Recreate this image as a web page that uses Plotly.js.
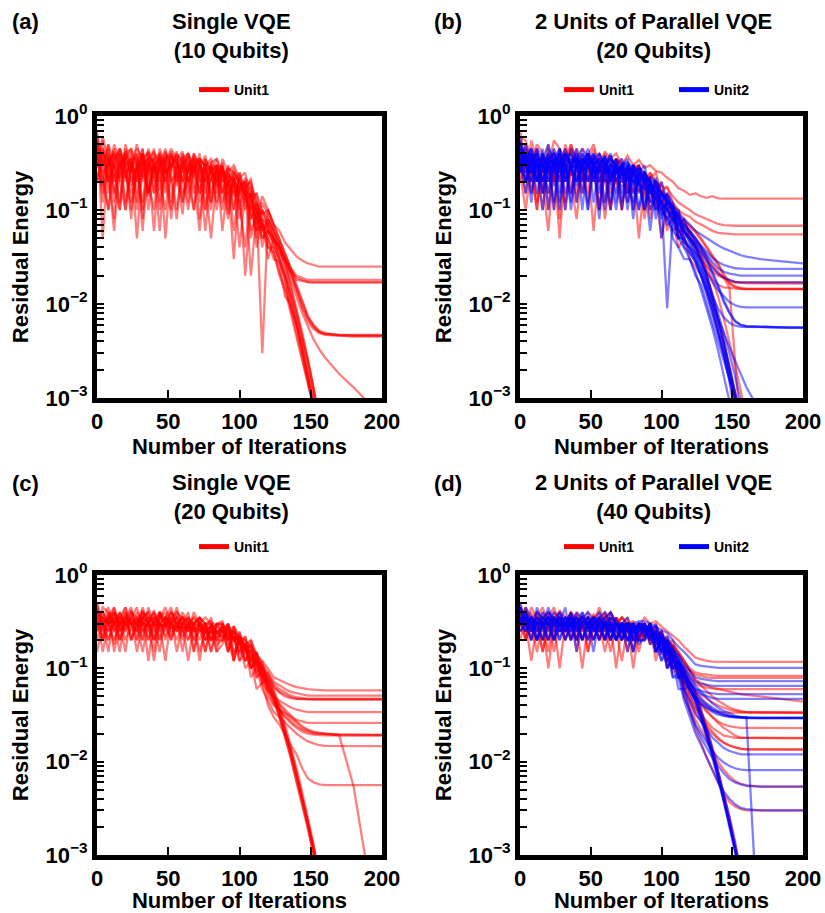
<!DOCTYPE html>
<html>
<head>
<meta charset="utf-8">
<script src="https://cdn.plot.ly/plotly-3.0.1.min.js"></script>
<style>html,body{margin:0;padding:0;background:#fff;}#chart{width:825px;height:913px;}</style>
</head>
<body>
<div id="chart"></div>
<script>
// ---------------- iteration grids ----------------
const headIters = [0,4,8,12,16,20,24,28,32,36,40,44,48,52,56,60,64,68,72,76,80,84,88,92,96,100,104,108,112,116,120];
const tailIters = [124,128,132,136,140,144,148,152,156,160,170,180,190,200];

// ---------------- tick labels ----------------
const xTickVals = [0,50,100,150,200];
const yDecades = [0.001,0.01,0.1,1];
const yDecadeLabels = ['10<sup>\u22123</sup>','10<sup>\u22122</sup>','10<sup>\u22121</sup>','10<sup>0</sup>'];

// ---------------- titles / legends ----------------
const panelLetters = ['(a)','(b)','(c)','(d)'];
const panelTitles = ['Single VQE<br>(10 Qubits)','2 Units of Parallel VQE<br>(20 Qubits)','Single VQE<br>(20 Qubits)','2 Units of Parallel VQE<br>(40 Qubits)'];
const unitNames = ['Unit1','Unit2'];

// ---------------- Panel (a): Single VQE, 10 qubits, Unit1 ----------------
const A_u1_head = [
[0.65,0.3,0.45,0.12,0.38,0.2,0.42,0.15,0.35,0.28,0.45,0.1,0.3,0.4,0.18,0.35,0.25,0.4,0.12,0.3,0.28,0.2,0.32,0.09,0.25,0.2,0.15,0.22,0.08,0.14,0.1],
[0.4,0.2,0.5,0.3,0.1,0.45,0.25,0.38,0.08,0.32,0.22,0.4,0.3,0.12,0.35,0.42,0.2,0.3,0.35,0.15,0.3,0.1,0.25,0.22,0.06,0.18,0.2,0.08,0.12,0.06,0.07],
[0.3,0.55,0.15,0.35,0.4,0.12,0.3,0.5,0.28,0.14,0.4,0.3,0.45,0.2,0.25,0.09,0.33,0.22,0.28,0.38,0.12,0.28,0.15,0.25,0.18,0.12,0.04,0.15,0.1,0.05,0.06],
[0.2,0.35,0.25,0.06,0.3,0.38,0.18,0.28,0.4,0.2,0.1,0.35,0.25,0.3,0.42,0.15,0.2,0.3,0.08,0.25,0.3,0.22,0.1,0.24,0.2,0.16,0.2,0.12,0.1,0.003,0.08],
[0.5,0.15,0.3,0.42,0.22,0.3,0.08,0.35,0.22,0.45,0.3,0.16,0.38,0.25,0.1,0.3,0.36,0.15,0.3,0.2,0.05,0.22,0.26,0.14,0.2,0.08,0.15,0.1,0.12,0.04,0.1],
[0.35,0.25,0.1,0.4,0.3,0.22,0.35,0.05,0.3,0.36,0.2,0.3,0.15,0.38,0.3,0.22,0.1,0.28,0.32,0.2,0.26,0.3,0.12,0.2,0.15,0.22,0.1,0.16,0.05,0.1,0.07],
[0.45,0.12,0.35,0.28,0.45,0.25,0.15,0.32,0.45,0.1,0.3,0.25,0.42,0.3,0.2,0.4,0.3,0.1,0.25,0.3,0.32,0.18,0.3,0.12,0.22,0.14,0.18,0.02,0.1,0.06,0.05],
[0.28,0.4,0.3,0.18,0.1,0.35,0.45,0.3,0.12,0.4,0.28,0.06,0.32,0.45,0.35,0.2,0.38,0.25,0.4,0.1,0.22,0.25,0.3,0.2,0.03,0.2,0.12,0.15,0.04,0.08,0.04],
[0.6,0.3,0.2,0.5,0.35,0.1,0.3,0.4,0.2,0.3,0.06,0.35,0.25,0.28,0.4,0.3,0.12,0.35,0.2,0.28,0.15,0.3,0.06,0.2,0.22,0.1,0.2,0.05,0.1,0.08,0.03],
[0.25,0.18,0.38,0.22,0.3,0.25,0.1,0.28,0.32,0.15,0.35,0.22,0.1,0.3,0.28,0.12,0.3,0.35,0.25,0.06,0.25,0.2,0.28,0.15,0.2,0.04,0.15,0.1,0.06,0.07,0.05],
[0.7,0.05,0.4,0.3,0.2,0.5,0.3,0.25,0.4,0.15,0.3,0.38,0.2,0.1,0.3,0.38,0.25,0.3,0.15,0.35,0.25,0.12,0.28,0.2,0.1,0.22,0.15,0.06,0.09,0.07,0.04],
[0.4,0.45,0.2,0.3,0.12,0.4,0.3,0.2,0.35,0.42,0.15,0.3,0.35,0.08,0.28,0.32,0.2,0.38,0.3,0.25,0.1,0.28,0.2,0.25,0.14,0.18,0.02,0.12,0.08,0.05,0.06],
[0.3,0.4,0.35,0.2,0.45,0.25,0.3,0.12,0.35,0.4,0.3,0.2,0.4,0.3,0.35,0.12,0.3,0.25,0.35,0.28,0.2,0.3,0.18,0.08,0.22,0.12,0.16,0.08,0.11,0.07,0.06],
[0.5,0.2,0.1,0.35,0.45,0.3,0.12,0.25,0.4,0.3,0.15,0.45,0.3,0.2,0.08,0.35,0.4,0.25,0.3,0.1,0.32,0.35,0.2,0.28,0.25,0.15,0.22,0.18,0.06,0.12,0.09],
[0.3,0.6,0.35,0.15,0.3,0.42,0.2,0.3,0.1,0.35,0.42,0.3,0.2,0.38,0.25,0.3,0.15,0.4,0.3,0.2,0.3,0.15,0.35,0.25,0.3,0.22,0.25,0.12,0.15,0.1,0.08],
[0.45,0.35,0.25,0.08,0.4,0.3,0.35,0.2,0.45,0.15,0.3,0.35,0.2,0.42,0.3,0.25,0.4,0.2,0.06,0.3,0.35,0.25,0.15,0.3,0.2,0.25,0.14,0.18,0.12,0.09,0.1],
[0.2,0.45,0.3,0.4,0.2,0.1,0.3,0.45,0.35,0.25,0.3,0.12,0.35,0.4,0.22,0.3,0.4,0.3,0.15,0.35,0.25,0.3,0.28,0.1,0.26,0.2,0.18,0.2,0.12,0.08,0.07],
[0.55,0.25,0.3,0.45,0.3,0.35,0.25,0.4,0.06,0.3,0.35,0.4,0.25,0.3,0.35,0.2,0.25,0.33,0.35,0.3,0.12,0.3,0.22,0.28,0.1,0.25,0.16,0.14,0.15,0.06,0.08],
[0.35,0.3,0.5,0.2,0.25,0.4,0.45,0.1,0.28,0.35,0.25,0.38,0.05,0.3,0.38,0.35,0.2,0.1,0.35,0.3,0.25,0.35,0.25,0.18,0.28,0.18,0.2,0.16,0.07,0.1,0.06]
];
const A_u1_tail = [
[0.07,0.06,0.045,0.038,0.032,0.029,0.027,0.026,0.025,0.025,0.025,0.025,0.025,0.025],
[0.05,0.04,0.03,0.024,0.02,0.019,0.018,0.018,0.018,0.018,0.018,0.018,0.018,0.018],
[0.045,0.035,0.028,0.022,0.019,0.018,0.017,0.017,0.017,0.017,0.017,0.017,0.017,0.017],
[0.06,0.045,0.032,0.022,0.015,0.01,0.0072,0.0058,0.0051,0.0048,0.0047,0.0047,0.0047,0.0047],
[0.07,0.05,0.034,0.024,0.016,0.011,0.0075,0.006,0.0052,0.0049,0.0047,0.0046,0.0046,0.0046],
[0.05,0.04,0.028,0.018,0.012,0.008,0.0058,0.0042,0.0033,0.0027,0.0018,0.0013,0.0009,0.0006],
[0.035,0.02,0.014,0.008,0.0045,0.0025,0.0014,0.0008,0.0003,null,null,null,null,null],
[0.04,0.025,0.012,0.01,0.006,0.003,0.0016,0.0009,0.0004,null,null,null,null,null],
[0.05,0.03,0.02,0.012,0.007,0.004,0.002,0.001,0.0005,null,null,null,null,null],
[0.03,0.028,0.018,0.009,0.006,0.0035,0.0018,0.0009,0.0004,null,null,null,null,null],
[0.035,0.022,0.015,0.009,0.005,0.0028,0.0015,0.0008,0.0003,null,null,null,null,null],
[0.04,0.03,0.02,0.013,0.008,0.0045,0.0024,0.0012,0.0005,null,null,null,null,null],
[0.05,0.04,0.03,0.021,0.014,0.0095,0.007,0.0057,0.005,0.0048,0.0046,0.0045,0.0045,0.0045],
[0.06,0.04,0.025,0.015,0.008,0.0045,0.0025,0.0013,0.0006,null,null,null,null,null],
[0.06,0.045,0.028,0.016,0.009,0.005,0.0026,0.0013,0.0006,null,null,null,null,null],
[0.07,0.05,0.035,0.024,0.018,0.0175,0.0172,0.017,0.017,0.017,0.017,0.017,0.017,0.017],
[0.05,0.035,0.022,0.012,0.0065,0.0035,0.0018,0.0009,0.0004,null,null,null,null,null],
[0.055,0.04,0.03,0.021,0.014,0.009,0.0065,0.0054,0.0049,0.0047,0.0046,0.0046,0.0046,0.0046],
[0.045,0.03,0.018,0.01,0.006,0.0032,0.0017,0.0009,0.0004,null,null,null,null,null]
];

// ---------------- Panel (b): 2 units parallel, 20 qubits ----------------
const B_u1_head = [
[0.6,0.55,0.35,0.5,0.4,0.3,0.55,0.45,0.35,0.5,0.3,0.45,0.38,0.5,0.3,0.42,0.35,0.4,0.3,0.38,0.3,0.34,0.28,0.3,0.26,0.25,0.22,0.2,0.17,0.16,0.145],
[0.3,0.15,0.35,0.25,0.1,0.3,0.2,0.35,0.28,0.15,0.32,0.25,0.4,0.2,0.3,0.12,0.3,0.35,0.2,0.28,0.22,0.3,0.15,0.25,0.2,0.18,0.17,0.14,0.12,0.11,0.1],
[0.25,0.1,0.3,0.4,0.2,0.06,0.3,0.25,0.45,0.3,0.15,0.35,0.28,0.3,0.1,0.32,0.25,0.3,0.35,0.15,0.28,0.2,0.25,0.08,0.2,0.15,0.13,0.11,0.1,0.09,0.085],
[0.3,0.25,0.27,0.22,0.26,0.24,0.25,0.23,0.25,0.24,0.24,0.22,0.23,0.21,0.22,0.2,0.21,0.19,0.2,0.18,0.17,0.16,0.15,0.14,0.13,0.125,0.115,0.1,0.088,0.078,0.068],
[0.25,0.3,0.24,0.26,0.22,0.25,0.23,0.26,0.22,0.24,0.23,0.24,0.21,0.22,0.2,0.21,0.19,0.2,0.18,0.19,0.16,0.17,0.14,0.15,0.12,0.12,0.11,0.095,0.085,0.075,0.066],
[0.45,0.2,0.3,0.1,0.38,0.3,0.2,0.4,0.12,0.3,0.35,0.2,0.3,0.06,0.28,0.3,0.2,0.33,0.1,0.3,0.2,0.25,0.1,0.2,0.14,0.1,0.12,0.08,0.06,0.07,0.05],
[0.35,0.45,0.15,0.3,0.25,0.5,0.1,0.3,0.35,0.2,0.08,0.3,0.25,0.38,0.2,0.3,0.15,0.28,0.25,0.12,0.25,0.05,0.2,0.22,0.1,0.15,0.06,0.1,0.09,0.05,0.06],
[0.2,0.3,0.4,0.12,0.3,0.2,0.32,0.05,0.3,0.45,0.25,0.3,0.12,0.3,0.35,0.2,0.1,0.3,0.22,0.26,0.1,0.22,0.2,0.12,0.15,0.1,0.08,0.1,0.06,0.045,0.04],
[0.7,0.3,0.2,0.35,0.15,0.3,0.4,0.25,0.1,0.3,0.28,0.35,0.2,0.25,0.3,0.08,0.25,0.2,0.3,0.22,0.15,0.25,0.18,0.1,0.15,0.05,0.1,0.08,0.04,0.05,0.03],
[0.4,0.2,0.55,0.3,0.35,0.1,0.45,0.3,0.2,0.5,0.35,0.15,0.4,0.3,0.35,0.25,0.1,0.35,0.3,0.2,0.3,0.28,0.08,0.22,0.25,0.15,0.18,0.12,0.1,0.06,0.05],
[0.3,0.5,0.25,0.1,0.4,0.3,0.35,0.2,0.5,0.3,0.12,0.35,0.3,0.45,0.25,0.3,0.38,0.2,0.1,0.3,0.25,0.3,0.2,0.15,0.2,0.16,0.14,0.1,0.08,0.07,0.06],
[0.55,0.35,0.3,0.45,0.2,0.38,0.3,0.08,0.35,0.4,0.3,0.2,0.35,0.3,0.1,0.4,0.3,0.25,0.3,0.15,0.3,0.2,0.25,0.2,0.12,0.2,0.1,0.12,0.05,0.08,0.05],
[0.45,0.25,0.35,0.4,0.3,0.15,0.3,0.4,0.3,0.25,0.45,0.3,0.15,0.3,0.4,0.3,0.2,0.35,0.3,0.15,0.28,0.3,0.2,0.25,0.18,0.12,0.15,0.1,0.07,0.06,0.05]
];
const B_u1_tail = [
[0.15,0.14,0.135,0.14,0.133,0.132,0.132,0.132,0.132,0.132,0.132,0.132,0.132,0.132],
[0.09,0.085,0.08,0.075,0.071,0.069,0.068,0.068,0.068,0.068,0.068,0.068,0.068,0.068],
[0.075,0.07,0.065,0.06,0.057,0.056,0.055,0.055,0.055,0.055,0.055,0.055,0.055,0.055],
[0.06,0.05,0.04,0.033,0.027,0.021,0.017,0.0155,0.0148,0.0145,0.0145,0.0145,0.0145,0.0145],
[0.058,0.048,0.039,0.032,0.026,0.02,0.0165,0.015,0.0145,0.0143,0.0143,0.0143,0.0143,0.0143],
[0.045,0.038,0.03,0.025,0.021,0.019,0.018,0.017,0.017,0.017,0.017,0.017,0.017,0.017],
[0.04,0.035,0.02,0.012,0.007,0.004,0.002,0.001,0.0004,null,null,null,null,null],
[0.035,0.03,0.025,0.022,0.02,0.019,0.015,0.002,0.0004,null,null,null,null,null],
[0.025,0.02,0.014,0.009,0.005,0.003,0.0017,0.0009,0.0004,null,null,null,null,null],
[0.04,0.03,0.02,0.012,0.007,0.004,0.0022,0.0012,0.0006,null,null,null,null,null],
[0.05,0.04,0.032,0.026,0.022,0.019,0.0175,0.017,0.0168,0.0166,0.0165,0.0165,0.0165,0.0165],
[0.04,0.03,0.022,0.018,0.016,0.015,0.0148,0.0146,0.0145,0.0145,0.0145,0.0145,0.0145,0.0145],
[0.04,0.032,0.025,0.018,0.012,0.007,0.004,0.0022,0.0012,0.0006,null,null,null,null]
];
const B_u2_head = [
[0.4,0.3,0.45,0.2,0.35,0.5,0.3,0.4,0.25,0.45,0.35,0.3,0.4,0.28,0.35,0.3,0.38,0.25,0.3,0.32,0.25,0.28,0.22,0.2,0.18,0.15,0.13,0.11,0.095,0.08,0.07],
[0.3,0.2,0.35,0.4,0.15,0.3,0.35,0.2,0.4,0.3,0.18,0.35,0.3,0.2,0.32,0.35,0.22,0.3,0.15,0.3,0.25,0.2,0.26,0.15,0.18,0.14,0.12,0.1,0.085,0.07,0.06],
[0.5,0.35,0.12,0.4,0.3,0.25,0.45,0.15,0.35,0.3,0.4,0.1,0.35,0.3,0.25,0.38,0.2,0.32,0.28,0.1,0.28,0.24,0.2,0.22,0.08,0.16,0.12,0.11,0.07,0.08,0.055],
[0.25,0.4,0.3,0.2,0.45,0.1,0.3,0.38,0.3,0.12,0.35,0.28,0.2,0.38,0.3,0.12,0.3,0.26,0.3,0.2,0.12,0.25,0.2,0.06,0.18,0.12,0.1,0.08,0.07,0.06,0.05],
[0.35,0.15,0.4,0.3,0.25,0.4,0.18,0.3,0.45,0.28,0.2,0.38,0.1,0.3,0.35,0.25,0.3,0.12,0.32,0.26,0.25,0.18,0.25,0.2,0.15,0.12,0.009,0.09,0.08,0.06,0.045],
[0.3,0.35,0.25,0.3,0.35,0.28,0.3,0.32,0.3,0.28,0.3,0.27,0.29,0.26,0.27,0.25,0.26,0.24,0.24,0.22,0.2,0.19,0.17,0.15,0.13,0.12,0.1,0.09,0.075,0.065,0.058],
[0.45,0.3,0.2,0.35,0.3,0.15,0.35,0.25,0.4,0.3,0.12,0.3,0.35,0.22,0.3,0.28,0.1,0.3,0.25,0.25,0.2,0.22,0.12,0.18,0.1,0.12,0.07,0.08,0.05,0.06,0.05],
[0.6,0.25,0.35,0.15,0.3,0.4,0.3,0.12,0.35,0.4,0.3,0.2,0.4,0.12,0.3,0.35,0.25,0.15,0.3,0.3,0.08,0.25,0.22,0.15,0.2,0.05,0.15,0.1,0.06,0.05,0.04],
[0.25,0.4,0.15,0.35,0.2,0.3,0.12,0.4,0.2,0.35,0.25,0.4,0.2,0.3,0.08,0.28,0.3,0.35,0.12,0.25,0.3,0.1,0.2,0.18,0.12,0.09,0.1,0.05,0.04,0.03,0.03],
[0.35,0.2,0.3,0.45,0.2,0.35,0.4,0.3,0.15,0.3,0.45,0.25,0.3,0.35,0.2,0.1,0.3,0.28,0.2,0.3,0.15,0.2,0.25,0.1,0.15,0.12,0.08,0.06,0.05,0.04,0.035],
[0.55,0.3,0.25,0.4,0.3,0.2,0.35,0.45,0.2,0.3,0.35,0.15,0.3,0.4,0.3,0.2,0.35,0.3,0.1,0.28,0.25,0.15,0.22,0.12,0.14,0.08,0.12,0.06,0.07,0.04,0.03],
[0.3,0.45,0.3,0.2,0.4,0.3,0.25,0.35,0.1,0.35,0.3,0.28,0.4,0.3,0.15,0.3,0.35,0.2,0.3,0.15,0.28,0.2,0.1,0.2,0.15,0.1,0.08,0.1,0.05,0.05,0.038],
[0.45,0.2,0.4,0.3,0.1,0.35,0.3,0.45,0.2,0.3,0.4,0.25,0.1,0.35,0.4,0.3,0.2,0.35,0.25,0.3,0.1,0.28,0.25,0.2,0.15,0.2,0.12,0.1,0.06,0.06,0.045],
[0.3,0.5,0.35,0.25,0.4,0.2,0.35,0.1,0.4,0.3,0.35,0.45,0.3,0.2,0.4,0.3,0.12,0.3,0.35,0.2,0.3,0.25,0.3,0.15,0.22,0.15,0.14,0.1,0.09,0.06,0.05],
[0.5,0.3,0.2,0.45,0.35,0.3,0.1,0.35,0.4,0.3,0.2,0.3,0.45,0.3,0.25,0.35,0.3,0.2,0.3,0.35,0.2,0.1,0.25,0.2,0.2,0.15,0.12,0.11,0.08,0.055,0.05],
[0.35,0.4,0.25,0.3,0.15,0.45,0.35,0.3,0.25,0.4,0.2,0.35,0.3,0.4,0.1,0.3,0.35,0.3,0.25,0.12,0.3,0.25,0.2,0.2,0.1,0.15,0.1,0.08,0.1,0.045,0.04],
[0.4,0.3,0.45,0.2,0.3,0.35,0.25,0.45,0.3,0.15,0.35,0.3,0.4,0.25,0.3,0.38,0.2,0.1,0.3,0.32,0.28,0.2,0.1,0.22,0.2,0.12,0.15,0.12,0.08,0.07,0.06],
[0.25,0.35,0.45,0.3,0.2,0.35,0.4,0.3,0.35,0.1,0.3,0.4,0.3,0.35,0.2,0.3,0.4,0.25,0.3,0.25,0.18,0.3,0.2,0.12,0.2,0.1,0.12,0.09,0.05,0.05,0.035]
];
const B_u2_tail = [
[0.06,0.055,0.05,0.046,0.042,0.039,0.037,0.035,0.033,0.032,0.03,0.029,0.028,0.027],
[0.05,0.042,0.036,0.031,0.028,0.026,0.025,0.024,0.0238,0.0236,0.0236,0.0236,0.0236,0.0236],
[0.048,0.04,0.033,0.028,0.024,0.022,0.021,0.0205,0.02,0.02,0.02,0.02,0.02,0.02],
[0.042,0.035,0.028,0.024,0.021,0.019,0.018,0.0172,0.0171,0.017,0.017,0.017,0.017,0.017],
[0.035,0.028,0.022,0.017,0.014,0.012,0.0105,0.0097,0.0093,0.0092,0.0092,0.0092,0.0092,0.0092],
[0.05,0.04,0.031,0.022,0.016,0.011,0.0082,0.0066,0.006,0.0058,0.0057,0.0057,0.0056,0.0056],
[0.045,0.037,0.029,0.021,0.015,0.0105,0.008,0.0065,0.006,0.0058,0.0057,0.0056,0.0056,0.0056],
[0.03,0.022,0.015,0.009,0.005,0.003,0.0015,0.0007,0.0003,null,null,null,null,null],
[0.02,0.016,0.01,0.006,0.004,0.0025,0.0016,0.001,0.0006,0.0004,null,null,null,null],
[0.028,0.02,0.014,0.01,0.007,0.005,0.0035,0.0025,0.0018,0.0013,0.0007,null,null,null],
[0.022,0.014,0.009,0.0055,0.0032,0.0018,0.001,0.0005,null,null,null,null,null,null],
[0.03,0.02,0.013,0.008,0.005,0.003,0.0018,0.0011,0.0006,0.0003,null,null,null,null],
[0.035,0.025,0.016,0.01,0.006,0.0035,0.002,0.0011,0.0005,null,null,null,null,null],
[0.04,0.03,0.02,0.012,0.007,0.004,0.0022,0.0012,0.0006,null,null,null,null,null],
[0.04,0.028,0.018,0.011,0.0065,0.0038,0.0021,0.0011,0.0005,null,null,null,null,null],
[0.032,0.024,0.017,0.012,0.009,0.0072,0.0063,0.0059,0.0057,0.0057,0.0056,0.0056,0.0056,0.0056],
[0.045,0.03,0.02,0.013,0.008,0.005,0.003,0.0017,0.0009,0.0005,null,null,null,null],
[0.028,0.02,0.013,0.008,0.0048,0.0028,0.0016,0.0009,0.0005,null,null,null,null,null]
];

// ---------------- Panel (c): Single VQE, 20 qubits, Unit1 ----------------
const C_u1_head = [
[0.45,0.3,0.4,0.25,0.35,0.3,0.42,0.28,0.35,0.4,0.3,0.38,0.32,0.4,0.3,0.35,0.32,0.3,0.35,0.3,0.32,0.28,0.3,0.25,0.28,0.22,0.2,0.17,0.14,0.12,0.1],
[0.3,0.2,0.35,0.4,0.25,0.35,0.2,0.3,0.42,0.3,0.25,0.35,0.4,0.22,0.3,0.35,0.25,0.32,0.3,0.2,0.3,0.24,0.22,0.28,0.2,0.24,0.15,0.2,0.14,0.11,0.09],
[0.4,0.35,0.2,0.3,0.38,0.3,0.25,0.4,0.3,0.2,0.35,0.3,0.28,0.35,0.15,0.3,0.35,0.28,0.2,0.3,0.25,0.3,0.3,0.2,0.25,0.18,0.22,0.12,0.15,0.1,0.085],
[0.35,0.3,0.25,0.4,0.3,0.35,0.3,0.2,0.35,0.32,0.4,0.25,0.3,0.35,0.3,0.22,0.3,0.35,0.3,0.25,0.28,0.2,0.25,0.3,0.2,0.22,0.16,0.18,0.12,0.1,0.075],
[0.5,0.2,0.35,0.3,0.15,0.35,0.3,0.25,0.4,0.3,0.12,0.3,0.35,0.3,0.25,0.35,0.2,0.3,0.28,0.3,0.15,0.25,0.2,0.3,0.12,0.22,0.18,0.1,0.13,0.08,0.06],
[0.2,0.35,0.3,0.18,0.4,0.25,0.35,0.3,0.2,0.35,0.3,0.4,0.2,0.3,0.35,0.3,0.12,0.3,0.25,0.3,0.2,0.22,0.28,0.15,0.25,0.2,0.12,0.16,0.08,0.09,0.05],
[0.3,0.32,0.3,0.33,0.3,0.31,0.3,0.32,0.29,0.3,0.29,0.3,0.28,0.29,0.28,0.28,0.27,0.27,0.26,0.25,0.24,0.24,0.26,0.24,0.22,0.2,0.18,0.15,0.12,0.09,0.065],
[0.32,0.3,0.35,0.3,0.32,0.28,0.33,0.3,0.31,0.28,0.3,0.28,0.3,0.27,0.28,0.27,0.28,0.25,0.26,0.24,0.25,0.24,0.25,0.23,0.21,0.19,0.17,0.14,0.11,0.085,0.06],
[0.25,0.4,0.3,0.35,0.2,0.3,0.4,0.3,0.15,0.3,0.35,0.3,0.25,0.4,0.3,0.2,0.3,0.3,0.35,0.2,0.25,0.15,0.3,0.15,0.22,0.12,0.18,0.08,0.1,0.06,0.045],
[0.15,0.3,0.35,0.25,0.3,0.4,0.2,0.35,0.3,0.25,0.3,0.38,0.3,0.2,0.3,0.35,0.25,0.3,0.15,0.25,0.28,0.2,0.2,0.28,0.14,0.2,0.1,0.12,0.06,0.07,0.04],
[0.3,0.25,0.4,0.3,0.35,0.2,0.3,0.25,0.35,0.4,0.2,0.3,0.35,0.25,0.3,0.3,0.35,0.2,0.3,0.3,0.2,0.25,0.25,0.2,0.28,0.15,0.18,0.1,0.12,0.07,0.055],
[0.35,0.28,0.2,0.35,0.3,0.25,0.35,0.15,0.3,0.35,0.3,0.2,0.35,0.3,0.3,0.25,0.2,0.3,0.3,0.25,0.2,0.3,0.3,0.18,0.22,0.12,0.15,0.1,0.12,0.07,0.08],
[0.4,0.3,0.25,0.3,0.4,0.3,0.3,0.35,0.25,0.3,0.2,0.35,0.3,0.3,0.2,0.3,0.3,0.25,0.3,0.15,0.3,0.18,0.2,0.28,0.15,0.2,0.12,0.14,0.08,0.1,0.07],
[0.3,0.35,0.3,0.2,0.3,0.35,0.3,0.3,0.35,0.2,0.3,0.3,0.22,0.3,0.35,0.25,0.3,0.2,0.25,0.28,0.15,0.3,0.25,0.15,0.28,0.18,0.12,0.16,0.1,0.08,0.09],
[0.45,0.2,0.35,0.45,0.3,0.15,0.4,0.35,0.2,0.45,0.3,0.15,0.35,0.45,0.25,0.3,0.4,0.15,0.35,0.3,0.2,0.3,0.32,0.2,0.12,0.25,0.15,0.18,0.1,0.12,0.065],
[0.25,0.45,0.4,0.15,0.3,0.45,0.3,0.25,0.4,0.12,0.35,0.4,0.3,0.2,0.4,0.35,0.3,0.15,0.3,0.35,0.3,0.15,0.18,0.3,0.2,0.15,0.22,0.1,0.14,0.09,0.06],
[0.5,0.3,0.15,0.4,0.35,0.45,0.2,0.3,0.4,0.35,0.15,0.35,0.45,0.3,0.25,0.4,0.3,0.3,0.12,0.3,0.3,0.25,0.22,0.25,0.12,0.2,0.16,0.12,0.15,0.07,0.075],
[0.35,0.4,0.3,0.45,0.2,0.3,0.35,0.45,0.25,0.3,0.42,0.2,0.3,0.4,0.35,0.15,0.35,0.3,0.35,0.2,0.25,0.28,0.25,0.3,0.2,0.22,0.15,0.17,0.11,0.1,0.06],
[0.4,0.15,0.3,0.4,0.25,0.35,0.45,0.2,0.35,0.3,0.4,0.3,0.12,0.35,0.4,0.3,0.25,0.4,0.3,0.15,0.3,0.25,0.28,0.2,0.25,0.14,0.18,0.13,0.09,0.11,0.07],
[0.3,0.35,0.45,0.3,0.2,0.4,0.3,0.3,0.45,0.3,0.2,0.4,0.35,0.3,0.45,0.25,0.3,0.35,0.3,0.25,0.35,0.2,0.3,0.22,0.26,0.2,0.18,0.2,0.13,0.1,0.08]
];
const C_u1_tail = [
[0.08,0.075,0.07,0.066,0.063,0.061,0.06,0.059,0.058,0.058,0.058,0.058,0.058,0.058],
[0.072,0.066,0.06,0.056,0.054,0.052,0.051,0.051,0.051,0.051,0.051,0.051,0.051,0.051],
[0.068,0.06,0.055,0.051,0.049,0.048,0.047,0.047,0.047,0.047,0.047,0.047,0.047,0.047],
[0.062,0.056,0.052,0.049,0.047,0.0465,0.046,0.046,0.046,0.046,0.046,0.046,0.046,0.046],
[0.05,0.045,0.041,0.038,0.036,0.035,0.034,0.034,0.034,0.034,0.034,0.034,0.034,0.034],
[0.04,0.036,0.033,0.03,0.028,0.027,0.026,0.026,0.026,0.026,0.026,0.026,0.026,0.026],
[0.05,0.042,0.036,0.031,0.027,0.024,0.022,0.021,0.0205,0.02,0.0197,0.0195,0.0195,0.0195],
[0.048,0.04,0.034,0.029,0.026,0.023,0.0215,0.0205,0.02,0.0197,0.0193,0.0192,0.0192,0.0192],
[0.034,0.03,0.026,0.023,0.02,0.018,0.0165,0.0157,0.015,0.0148,0.0147,0.0147,0.0147,0.0147],
[0.03,0.025,0.019,0.015,0.012,0.0085,0.0066,0.006,0.0057,0.0056,0.0056,0.0056,0.0056,0.0056],
[0.042,0.036,0.031,0.027,0.024,0.022,0.021,0.02,0.02,0.02,0.019,0.0055,0.00065,null],
[0.05,0.032,0.02,0.012,0.007,0.004,0.0022,0.0012,0.0006,null,null,null,null,null],
[0.055,0.036,0.022,0.013,0.0075,0.0042,0.0023,0.0012,0.0006,null,null,null,null,null],
[0.06,0.04,0.025,0.015,0.0085,0.0047,0.0025,0.0013,0.0006,null,null,null,null,null],
[0.048,0.03,0.019,0.011,0.0065,0.0036,0.002,0.001,0.0005,null,null,null,null,null],
[0.045,0.03,0.018,0.011,0.006,0.0034,0.0019,0.001,0.0005,null,null,null,null,null],
[0.055,0.035,0.022,0.013,0.0075,0.0041,0.0022,0.0011,0.0005,null,null,null,null,null],
[0.045,0.036,0.03,0.026,0.023,0.021,0.02,0.0195,0.0193,0.0192,0.0192,0.0192,0.0192,0.0192],
[0.05,0.034,0.021,0.013,0.0072,0.004,0.0022,0.0012,0.0006,null,null,null,null,null],
[0.065,0.055,0.05,0.048,0.047,0.047,0.047,0.047,0.047,0.047,0.047,0.047,0.047,0.047]
];

// ---------------- Panel (d): 2 units parallel, 40 qubits ----------------
const D_u1_head = [
[0.4,0.3,0.45,0.35,0.3,0.4,0.3,0.42,0.35,0.3,0.38,0.35,0.3,0.38,0.3,0.35,0.4,0.3,0.35,0.3,0.32,0.28,0.35,0.3,0.32,0.28,0.25,0.22,0.2,0.17,0.15],
[0.3,0.2,0.35,0.3,0.15,0.3,0.35,0.25,0.3,0.4,0.2,0.3,0.35,0.3,0.25,0.4,0.3,0.2,0.3,0.35,0.25,0.2,0.3,0.25,0.28,0.22,0.2,0.17,0.15,0.12,0.1],
[0.35,0.25,0.3,0.4,0.3,0.2,0.35,0.3,0.25,0.3,0.35,0.2,0.3,0.28,0.35,0.25,0.3,0.3,0.2,0.3,0.25,0.28,0.25,0.3,0.22,0.25,0.18,0.2,0.14,0.12,0.095],
[0.25,0.3,0.12,0.3,0.35,0.3,0.2,0.35,0.3,0.25,0.3,0.35,0.15,0.3,0.35,0.3,0.2,0.3,0.35,0.3,0.1,0.25,0.28,0.2,0.3,0.15,0.22,0.16,0.12,0.1,0.08],
[0.3,0.35,0.3,0.25,0.3,0.2,0.3,0.35,0.3,0.3,0.25,0.3,0.35,0.3,0.2,0.3,0.28,0.35,0.25,0.3,0.28,0.3,0.3,0.26,0.25,0.22,0.2,0.17,0.14,0.11,0.09],
[0.35,0.3,0.3,0.31,0.29,0.3,0.28,0.3,0.28,0.29,0.27,0.28,0.27,0.28,0.27,0.28,0.27,0.28,0.27,0.28,0.27,0.28,0.27,0.26,0.24,0.22,0.2,0.18,0.15,0.12,0.095],
[0.45,0.2,0.3,0.35,0.15,0.3,0.4,0.3,0.2,0.35,0.3,0.2,0.3,0.3,0.35,0.2,0.3,0.25,0.3,0.2,0.25,0.3,0.22,0.3,0.18,0.25,0.12,0.18,0.1,0.1,0.07],
[0.3,0.25,0.35,0.3,0.3,0.35,0.15,0.3,0.35,0.3,0.25,0.3,0.3,0.2,0.3,0.35,0.3,0.25,0.12,0.28,0.3,0.2,0.3,0.18,0.25,0.15,0.2,0.1,0.12,0.07,0.06],
[0.2,0.35,0.3,0.2,0.35,0.3,0.3,0.25,0.35,0.2,0.3,0.35,0.25,0.3,0.3,0.2,0.35,0.3,0.3,0.15,0.3,0.25,0.2,0.28,0.12,0.22,0.1,0.15,0.08,0.07,0.05],
[0.3,0.4,0.25,0.3,0.3,0.25,0.35,0.3,0.2,0.3,0.3,0.25,0.35,0.3,0.2,0.3,0.35,0.2,0.3,0.3,0.22,0.25,0.28,0.22,0.2,0.25,0.14,0.15,0.09,0.07,0.05],
[0.35,0.3,0.25,0.35,0.2,0.3,0.3,0.35,0.25,0.3,0.2,0.35,0.3,0.25,0.3,0.3,0.15,0.3,0.25,0.25,0.2,0.3,0.22,0.28,0.15,0.2,0.15,0.1,0.12,0.06,0.045],
[0.35,0.3,0.2,0.3,0.35,0.3,0.25,0.3,0.3,0.35,0.2,0.3,0.3,0.3,0.25,0.3,0.2,0.3,0.25,0.3,0.2,0.22,0.25,0.3,0.2,0.18,0.2,0.1,0.1,0.06,0.04],
[0.3,0.35,0.3,0.3,0.2,0.35,0.3,0.3,0.25,0.3,0.35,0.25,0.3,0.2,0.3,0.3,0.25,0.3,0.3,0.2,0.25,0.2,0.3,0.22,0.25,0.15,0.18,0.09,0.1,0.05,0.035],
[0.4,0.3,0.3,0.15,0.3,0.3,0.35,0.25,0.3,0.3,0.2,0.3,0.35,0.3,0.25,0.3,0.3,0.1,0.3,0.25,0.2,0.3,0.2,0.25,0.15,0.2,0.1,0.14,0.08,0.09,0.06],
[0.3,0.45,0.2,0.3,0.3,0.1,0.3,0.35,0.3,0.2,0.35,0.3,0.25,0.35,0.3,0.15,0.3,0.3,0.25,0.3,0.15,0.25,0.28,0.18,0.22,0.15,0.12,0.16,0.08,0.1,0.06],
[0.45,0.2,0.35,0.4,0.3,0.15,0.35,0.4,0.3,0.2,0.4,0.35,0.15,0.3,0.45,0.3,0.2,0.35,0.3,0.25,0.3,0.2,0.25,0.3,0.18,0.2,0.14,0.12,0.1,0.08,0.065],
[0.3,0.45,0.3,0.2,0.4,0.35,0.3,0.1,0.3,0.4,0.35,0.3,0.2,0.35,0.4,0.25,0.3,0.35,0.2,0.3,0.25,0.3,0.3,0.25,0.22,0.25,0.18,0.15,0.12,0.09,0.07],
[0.5,0.3,0.25,0.35,0.45,0.3,0.2,0.35,0.3,0.4,0.15,0.3,0.4,0.35,0.2,0.3,0.4,0.3,0.2,0.3,0.3,0.15,0.28,0.22,0.26,0.18,0.2,0.12,0.12,0.08,0.065],
[0.35,0.3,0.4,0.2,0.3,0.35,0.45,0.3,0.25,0.35,0.3,0.1,0.3,0.35,0.3,0.4,0.25,0.3,0.35,0.3,0.2,0.25,0.25,0.3,0.2,0.22,0.12,0.15,0.1,0.07,0.07]
];
const D_u1_tail = [
[0.13,0.125,0.12,0.118,0.117,0.117,0.117,0.117,0.117,0.117,0.117,0.117,0.117,0.117],
[0.09,0.087,0.085,0.084,0.083,0.083,0.083,0.083,0.083,0.083,0.083,0.083,0.083,0.083],
[0.085,0.082,0.08,0.079,0.079,0.079,0.079,0.079,0.079,0.079,0.079,0.079,0.079,0.079],
[0.067,0.064,0.062,0.061,0.06,0.06,0.06,0.06,0.06,0.06,0.06,0.06,0.06,0.06],
[0.075,0.07,0.066,0.062,0.06,0.058,0.056,0.054,0.053,0.052,0.05,0.048,0.046,0.044],
[0.075,0.065,0.057,0.05,0.045,0.041,0.038,0.036,0.035,0.034,0.0336,0.0336,0.0336,0.0336],
[0.058,0.052,0.047,0.043,0.04,0.038,0.036,0.035,0.034,0.034,0.0338,0.0336,0.0336,0.0336],
[0.048,0.04,0.034,0.03,0.027,0.025,0.024,0.0235,0.023,0.023,0.0229,0.0229,0.0229,0.0229],
[0.038,0.032,0.027,0.023,0.021,0.019,0.0185,0.018,0.018,0.018,0.018,0.018,0.018,0.018],
[0.036,0.03,0.025,0.021,0.018,0.016,0.015,0.0142,0.0138,0.0136,0.0136,0.0136,0.0136,0.0136],
[0.032,0.027,0.023,0.02,0.0175,0.0158,0.0148,0.0141,0.0137,0.0135,0.0134,0.0134,0.0134,0.0134],
[0.028,0.022,0.017,0.013,0.01,0.0082,0.007,0.0062,0.0058,0.0056,0.0054,0.0054,0.0054,0.0054],
[0.022,0.016,0.011,0.008,0.006,0.0045,0.0037,0.0033,0.0031,0.003,0.003,0.003,0.003,0.003],
[0.045,0.03,0.019,0.012,0.007,0.004,0.0022,0.0012,0.0006,null,null,null,null,null],
[0.05,0.034,0.021,0.013,0.0075,0.0042,0.0023,0.0012,0.0006,null,null,null,null,null],
[0.055,0.036,0.023,0.014,0.008,0.0045,0.0025,0.0013,0.0006,null,null,null,null,null],
[0.055,0.046,0.04,0.036,0.034,0.0336,0.0336,0.0336,0.0336,0.0336,0.0336,0.0336,0.0336,0.0336],
[0.05,0.042,0.035,0.03,0.026,0.023,0.021,0.019,0.018,0.018,0.0178,0.0178,0.0178,0.0178],
[0.05,0.033,0.021,0.013,0.0075,0.0043,0.0024,0.0012,0.0006,null,null,null,null,null]
];
const D_u2_head = [
[0.45,0.35,0.3,0.4,0.35,0.3,0.4,0.35,0.3,0.38,0.3,0.35,0.3,0.35,0.3,0.32,0.3,0.3,0.28,0.3,0.3,0.32,0.32,0.3,0.28,0.26,0.24,0.2,0.17,0.15,0.13],
[0.3,0.35,0.25,0.3,0.4,0.3,0.3,0.2,0.35,0.3,0.3,0.4,0.25,0.3,0.3,0.2,0.35,0.3,0.3,0.25,0.3,0.22,0.28,0.25,0.3,0.2,0.22,0.16,0.14,0.11,0.095],
[0.35,0.3,0.3,0.2,0.3,0.35,0.3,0.3,0.25,0.35,0.3,0.3,0.2,0.35,0.3,0.3,0.25,0.3,0.3,0.2,0.25,0.3,0.22,0.28,0.2,0.24,0.15,0.17,0.12,0.1,0.085],
[0.25,0.3,0.35,0.3,0.2,0.3,0.3,0.35,0.25,0.3,0.2,0.35,0.3,0.3,0.35,0.25,0.3,0.2,0.3,0.3,0.2,0.25,0.3,0.2,0.25,0.16,0.2,0.12,0.12,0.09,0.07],
[0.3,0.32,0.3,0.31,0.3,0.3,0.29,0.29,0.28,0.28,0.28,0.27,0.28,0.27,0.28,0.27,0.27,0.27,0.27,0.26,0.27,0.26,0.26,0.25,0.23,0.21,0.19,0.16,0.13,0.1,0.08],
[0.5,0.3,0.25,0.35,0.3,0.2,0.3,0.35,0.3,0.25,0.3,0.35,0.3,0.2,0.3,0.3,0.3,0.2,0.25,0.28,0.15,0.3,0.22,0.28,0.15,0.22,0.14,0.15,0.1,0.08,0.06],
[0.35,0.4,0.3,0.3,0.25,0.35,0.3,0.3,0.2,0.3,0.35,0.3,0.3,0.25,0.3,0.3,0.2,0.3,0.25,0.2,0.25,0.3,0.25,0.3,0.2,0.22,0.15,0.16,0.1,0.09,0.06],
[0.3,0.25,0.35,0.3,0.3,0.25,0.3,0.4,0.3,0.2,0.3,0.3,0.35,0.25,0.3,0.35,0.2,0.3,0.3,0.25,0.25,0.2,0.3,0.2,0.24,0.15,0.2,0.1,0.1,0.06,0.045],
[0.35,0.3,0.2,0.35,0.3,0.3,0.25,0.3,0.35,0.3,0.3,0.2,0.3,0.35,0.25,0.3,0.3,0.25,0.2,0.3,0.25,0.3,0.25,0.3,0.18,0.12,0.18,0.08,0.09,0.05,0.035],
[0.3,0.35,0.3,0.25,0.35,0.3,0.2,0.3,0.3,0.35,0.25,0.3,0.3,0.2,0.35,0.3,0.25,0.3,0.2,0.25,0.3,0.2,0.2,0.25,0.15,0.2,0.1,0.12,0.06,0.06,0.035],
[0.25,0.3,0.35,0.3,0.3,0.2,0.35,0.3,0.3,0.25,0.35,0.3,0.2,0.3,0.3,0.3,0.25,0.2,0.3,0.3,0.2,0.3,0.28,0.18,0.22,0.12,0.15,0.08,0.08,0.045,0.03],
[0.3,0.35,0.3,0.2,0.3,0.3,0.35,0.3,0.25,0.3,0.3,0.3,0.35,0.25,0.3,0.3,0.2,0.3,0.28,0.3,0.22,0.3,0.3,0.22,0.26,0.18,0.2,0.12,0.12,0.08,0.06],
[0.35,0.25,0.3,0.35,0.3,0.3,0.2,0.3,0.35,0.3,0.2,0.3,0.3,0.35,0.2,0.3,0.3,0.3,0.25,0.2,0.3,0.18,0.22,0.3,0.15,0.2,0.12,0.14,0.08,0.09,0.06],
[0.45,0.3,0.35,0.2,0.3,0.35,0.3,0.25,0.3,0.3,0.35,0.2,0.3,0.3,0.25,0.3,0.35,0.2,0.3,0.3,0.15,0.3,0.3,0.2,0.24,0.14,0.18,0.1,0.12,0.07,0.06],
[0.3,0.4,0.25,0.3,0.3,0.3,0.35,0.2,0.3,0.35,0.25,0.3,0.3,0.3,0.35,0.2,0.3,0.25,0.3,0.2,0.25,0.3,0.25,0.28,0.15,0.22,0.12,0.1,0.12,0.06,0.065],
[0.4,0.3,0.2,0.45,0.3,0.35,0.2,0.4,0.3,0.35,0.15,0.4,0.3,0.35,0.3,0.2,0.4,0.3,0.3,0.15,0.3,0.25,0.28,0.22,0.25,0.15,0.2,0.12,0.1,0.08,0.07],
[0.3,0.45,0.35,0.25,0.35,0.4,0.3,0.3,0.45,0.2,0.3,0.35,0.4,0.3,0.2,0.35,0.4,0.3,0.25,0.3,0.3,0.25,0.3,0.25,0.28,0.2,0.2,0.14,0.13,0.09,0.07],
[0.45,0.35,0.3,0.3,0.2,0.4,0.35,0.25,0.3,0.4,0.3,0.2,0.35,0.3,0.4,0.3,0.25,0.35,0.2,0.3,0.25,0.28,0.25,0.3,0.2,0.25,0.16,0.15,0.11,0.09,0.075],
[0.3,0.4,0.3,0.2,0.3,0.45,0.3,0.35,0.2,0.3,0.4,0.3,0.3,0.15,0.35,0.4,0.3,0.2,0.3,0.35,0.2,0.2,0.2,0.28,0.18,0.22,0.1,0.14,0.08,0.08,0.055]
];
const D_u2_tail = [
[0.11,0.106,0.104,0.102,0.101,0.101,0.101,0.101,0.101,0.101,0.101,0.101,0.101,0.101],
[0.08,0.077,0.075,0.074,0.073,0.073,0.073,0.073,0.073,0.073,0.073,0.073,0.073,0.073],
[0.071,0.068,0.066,0.065,0.065,0.065,0.065,0.065,0.065,0.065,0.065,0.065,0.065,0.065],
[0.06,0.057,0.055,0.054,0.053,0.053,0.053,0.053,0.053,0.053,0.053,0.053,0.053,0.053],
[0.065,0.056,0.048,0.042,0.038,0.035,0.033,0.031,0.03,0.0297,0.0294,0.0294,0.0294,0.0294],
[0.05,0.045,0.04,0.036,0.034,0.032,0.031,0.0303,0.03,0.0296,0.0294,0.0294,0.0294,0.0294],
[0.048,0.042,0.038,0.035,0.033,0.031,0.0302,0.0298,0.0295,0.0293,0.0292,0.0292,0.0292,0.0292],
[0.033,0.027,0.022,0.018,0.016,0.014,0.013,0.0125,0.012,0.012,0.012,0.012,0.012,0.012],
[0.025,0.02,0.016,0.013,0.011,0.0098,0.009,0.0085,0.0082,0.0081,0.0081,0.0081,0.0081,0.0081],
[0.024,0.018,0.014,0.011,0.009,0.0075,0.0065,0.006,0.0057,0.0055,0.0054,0.0054,0.0054,0.0054],
[0.02,0.015,0.011,0.008,0.006,0.0048,0.004,0.0035,0.0032,0.0031,0.003,0.003,0.003,0.003],
[0.046,0.041,0.037,0.034,0.032,0.031,0.0305,0.03,0.03,0.03,0.00005,null,null,null],
[0.045,0.03,0.019,0.012,0.007,0.004,0.0022,0.0012,0.0006,null,null,null,null,null],
[0.045,0.03,0.02,0.012,0.007,0.004,0.0022,0.0012,0.0006,null,null,null,null,null],
[0.05,0.032,0.02,0.012,0.007,0.0039,0.0021,0.0011,0.0005,null,null,null,null,null],
[0.055,0.036,0.023,0.014,0.008,0.0046,0.0026,0.0014,0.0007,0.0003,null,null,null,null],
[0.056,0.048,0.042,0.038,0.035,0.033,0.031,0.03,0.0296,0.0294,0.0294,0.0294,0.0294,0.0294],
[0.06,0.053,0.05,0.048,0.047,0.047,0.047,0.047,0.047,0.047,0.047,0.047,0.047,0.047],
[0.042,0.028,0.018,0.011,0.0065,0.0037,0.002,0.0011,0.0005,null,null,null,null,null]
];

// ---------------- build ----------------
const RED = 'rgba(255,0,0,0.5)';
const BLUE = 'rgba(0,0,255,0.5)';
const allIters = headIters.concat(tailIters);
const traces = [];

function addRuns(heads, tails, color, ax, ay) {
  heads.forEach((h, i) => {
    traces.push({
      type: 'scatter', mode: 'lines',
      x: allIters, y: h.concat(tails[i]),
      xaxis: ax, yaxis: ay,
      line: {color: color, width: 2.3},
      connectgaps: false, showlegend: false, hoverinfo: 'skip'
    });
  });
}
function addLegend(name, color, ax, ay, legendId) {
  traces.push({
    type: 'scatter', mode: 'lines', x: [null], y: [null],
    xaxis: ax, yaxis: ay, name: name,
    line: {color: color, width: 5},
    showlegend: true, legend: legendId
  });
}

addRuns(A_u1_head, A_u1_tail, RED, 'x', 'y');
addLegend(unitNames[0], 'red', 'x', 'y', 'legend');

addRuns(B_u1_head, B_u1_tail, RED, 'x2', 'y2');
addRuns(B_u2_head, B_u2_tail, BLUE, 'x2', 'y2');
addLegend(unitNames[0], 'red', 'x2', 'y2', 'legend2');
addLegend(unitNames[1], 'blue', 'x2', 'y2', 'legend2');

addRuns(C_u1_head, C_u1_tail, RED, 'x3', 'y3');
addLegend(unitNames[0], 'red', 'x3', 'y3', 'legend3');

addRuns(D_u1_head, D_u1_tail, RED, 'x4', 'y4');
addRuns(D_u2_head, D_u2_tail, BLUE, 'x4', 'y4');
addLegend(unitNames[0], 'red', 'x4', 'y4', 'legend4');
addLegend(unitNames[1], 'blue', 'x4', 'y4', 'legend4');

// minor y ticks at 2..9 of each decade
const yMinorVals = [];
yDecades.slice(0, -1).forEach(d => { for (let m = 2; m <= 9; m++) yMinorVals.push(d * m); });

const W = 825, H = 913;
const FONT = 'Arial, "Liberation Sans", Helvetica, sans-serif';
const px = v => v / W;
const py = v => 1 - v / H;

function xAxis(domain, anchor) {
  return {
    domain: domain, anchor: anchor, range: [0, 200],
    tickmode: 'array', tickvals: xTickVals, ticks: 'inside', ticklen: 8, tickwidth: 2, tickcolor: '#000',
    showline: true, linewidth: 5, linecolor: '#000', mirror: true,
    showgrid: false, zeroline: false,
    tickfont: {family: FONT, size: 22, color: '#000', weight: 'bold'},
    title: {text: 'Number of Iterations', font: {family: FONT, size: 22, color: '#000', weight: 'bold'}, standoff: 3}
  };
}
function yAxis(domain, anchor) {
  return {
    domain: domain, anchor: anchor, type: 'log', range: [-3, 0],
    tickmode: 'array', tickvals: yDecades, ticktext: yDecadeLabels,
    ticks: 'inside', ticklen: 7, tickwidth: 2, tickcolor: '#000',
    minor: {tickmode: 'array', tickvals: yMinorVals, ticks: 'inside', ticklen: 7, tickwidth: 2, tickcolor: '#000', showgrid: false},
    showline: true, linewidth: 5, linecolor: '#000', mirror: true,
    showgrid: false, zeroline: false,
    tickfont: {family: FONT, size: 22, color: '#000', weight: 'bold'},
    title: {text: 'Residual Energy', font: {family: FONT, size: 22, color: '#000', weight: 'bold'}, standoff: 12}
  };
}
function legendAt(x, y) {
  return {
    orientation: 'h', x: x, y: y, xanchor: 'left', yanchor: 'middle',
    font: {family: FONT, size: 14, color: '#000', weight: 'bold'},
    bgcolor: 'rgba(0,0,0,0)', borderwidth: 0, itemwidth: 30,
    entrywidth: 70, entrywidthmode: 'pixels', itemclick: false, itemdoubleclick: false
  };
}

const colL = [px(97), px(382)];
const colR = [px(520), px(803)];
const rowT = [py(398), py(116)];
const rowB = [py(855), py(575)];

const annotations = [];
const letterX = [10, 432, 10, 432];
const letterY = [22, 22, 483, 483];
const titleX = [231, 653, 231, 653];
for (let i = 0; i < 4; i++) {
  annotations.push({xref: 'paper', yref: 'paper', x: px(letterX[i]), y: py(letterY[i]),
    xanchor: 'left', yanchor: 'middle', showarrow: false, text: panelLetters[i],
    font: {family: FONT, size: 22, color: '#000', weight: 'bold'}});
  annotations.push({xref: 'paper', yref: 'paper', x: px(titleX[i]), y: py(letterY[i] - 15),
    xanchor: 'center', yanchor: 'top', showarrow: false, text: panelTitles[i],
    font: {family: FONT, size: 22, color: '#000', weight: 'bold'}});
}

const layout = {
  width: W, height: H,
  margin: {l: 0, r: 0, t: 0, b: 0},
  paper_bgcolor: '#fff', plot_bgcolor: '#fff',
  showlegend: true,
  xaxis: xAxis(colL, 'y'), yaxis: yAxis(rowT, 'x'),
  xaxis2: xAxis(colR, 'y2'), yaxis2: yAxis(rowT, 'x2'),
  xaxis3: xAxis(colL, 'y3'), yaxis3: yAxis(rowB, 'x3'),
  xaxis4: xAxis(colR, 'y4'), yaxis4: yAxis(rowB, 'x4'),
  legend: legendAt(px(194), py(90)),
  legend2: legendAt(px(559), py(90)),
  legend3: legendAt(px(194), py(547)),
  legend4: legendAt(px(559), py(547)),
  annotations: annotations
};

Plotly.newPlot('chart', traces, layout, {staticPlot: true, displayModeBar: false});
</script>
</body>
</html>
